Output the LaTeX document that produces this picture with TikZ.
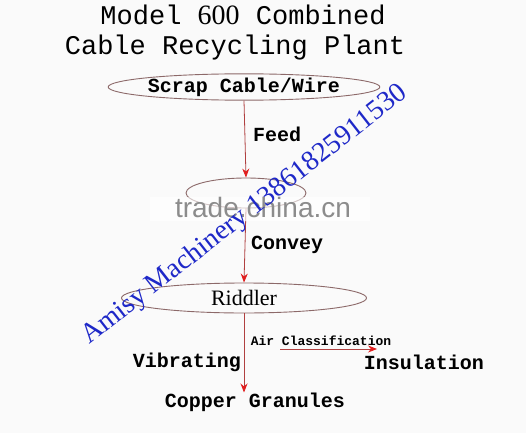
\documentclass[tikz,border=0pt]{standalone}
\usepackage{fontspec}
\setmainfont{Liberation Serif}
\newfontfamily\monofont{Liberation Mono}
\newfontfamily\wmfont{Liberation Sans}
\usetikzlibrary{positioning, arrows.meta, shapes.geometric}

\definecolor{rimcol}{RGB}{140,105,105}
\definecolor{flowcol}{RGB}{176,64,64}
\definecolor{tipcol}{RGB}{225,30,30}
\definecolor{markblue}{RGB}{30,40,200}

\begin{document}
\begin{tikzpicture}[x=1pt, y=-1pt]
	% ----- Styles -----
	\tikzset{
		stage/.style={
			ellipse, draw=rimcol, line width=0.9pt, inner sep=0pt
		},
		label/.style={font=\monofont\bfseries\fontsize{20}{21}\selectfont, inner sep=0pt},
		smalllabel/.style={font=\monofont\bfseries\fontsize{13}{14}\selectfont, inner sep=0pt},
		heading/.style={font=\monofont\fontsize{27}{28}\selectfont, inner sep=0pt},
		arrow/.style={flowcol, thick, -{Stealth[length=9pt, width=7pt, color=tipcol]}}
	}
	\fill[black!2] (0,0) rectangle (526,433);
	\useasboundingbox (0,0) rectangle (526,433);
	% ----- Title -----
	\node (title1) [heading] at (243,15) {Model {\rmfamily\fontsize{28}{28}\selectfont 600} Combined};
	\node (title2) [heading] at (235,48) {Cable Recycling Plant};
	% ----- Nodes -----
	\node (scrap)   [stage, minimum width=228pt, minimum height=26pt, label] at (244,87) {Scrap Cable/Wire};
	\node (crusher) [stage, minimum width=120pt, minimum height=30pt] at (246,193) {};
	\node (riddler) [stage, minimum width=245pt, minimum height=30pt,
		font=\rmfamily\fontsize{22}{23}\selectfont] at (244,298) {Riddler};
	\node (copper)  [label] at (255,402) {Copper Granules};

	\node (feed)    [label] at (277,134) {Feed};
	\node (convey)  [label] at (287,245) {Convey};
	\node (air)     [smalllabel] at (321,341) {Air Classification};
	\node (insul)   [label] at (424,362) {Insulation};
	\node (vib)     [label] at (187,362) {Vibrating};
	\coordinate (airL) at (280,349);
	\coordinate (airR) at (377,349);

	% ----- Arrows -----
	\draw[arrow] (scrap.south) -- (crusher.north);
	\draw[arrow] (crusher.south) -- (riddler.north);
	\draw[arrow] (riddler.south) -- (riddler.south |- copper.north);
	\draw[arrow] (airL) -- (airR);

	% Watermarks
	\fill[white, opacity=.6] (150,197) rectangle (370,221);
	\node (trade) [font=\wmfont\fontsize{28}{28}\selectfont, text=black!45] at (263,207) {trade.china.cn};
	\node (amisy) [font=\rmfamily\fontsize{28}{28}\selectfont, text=markblue, rotate=38] at (245,215) {Amisy Machinery 13861825911530};
\end{tikzpicture}
\end{document}
